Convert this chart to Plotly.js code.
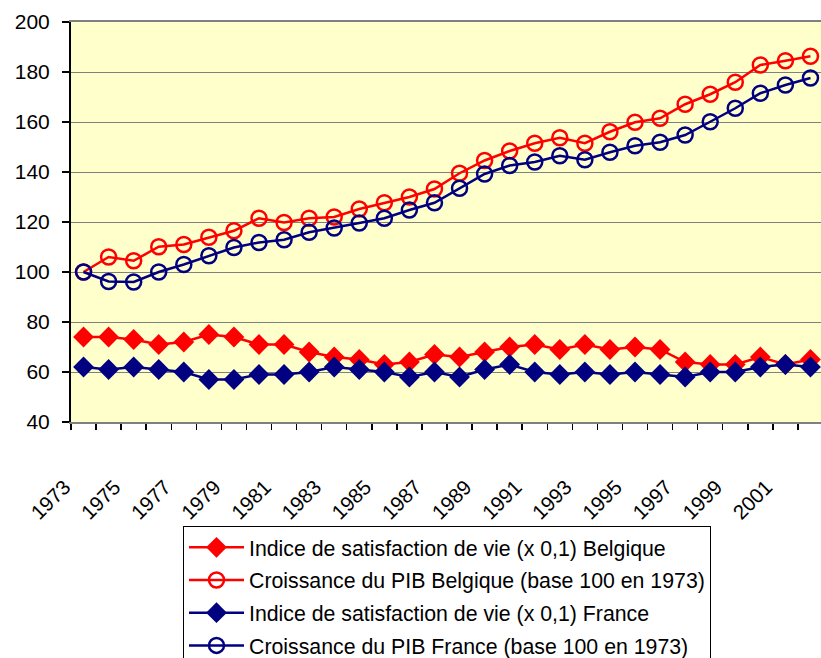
<!DOCTYPE html>
<html>
<head>
<meta charset="utf-8">
<script src="https://cdn.plot.ly/plotly-3.0.1.min.js"></script>
<style>html,body{margin:0;padding:0;background:#fff;}#chart{width:821px;height:658px;}</style>
</head>
<body>
<div id="chart"></div>
<script>
var years = [1973,1974,1975,1976,1977,1978,1979,1980,1981,1982,1983,1984,1985,1986,1987,1988,1989,1990,1991,1992,1993,1994,1995,1996,1997,1998,1999,2000,2001,2002];
var satisfactionBelgique = [74,74,73,71,72,75,74,71,71,68,66,65,63,64,67,66,68,70,71,69,71,69,70,69,64,63,63,66,63,65];
var pibBelgique = [100,106,104.5,110.1,111,113.9,116.5,121.5,119.8,121.5,122,125.2,127.7,130,133.2,139.5,144.6,148.4,151.5,153.7,151.5,156.1,159.9,161.5,167.1,171.1,175.9,182.8,184.5,186.3];
var satisfactionFrance = [62,61,62,61,60,57,57,59,59,60,62,61,60,58,60,58,61,63,60,59,60,59,60,59,58,60,60,62,63,62];
var pibFrance = [100,96.2,96,100,103,106.5,109.8,111.8,112.9,115.9,117.6,119.6,121.5,124.8,127.7,133.5,139.2,142.6,144,146.5,144.9,147.9,150.5,151.9,154.8,160.1,165.5,171.5,174.8,177.6];
var tickLabels = ['1973','1975','1977','1979','1981','1983','1985','1987','1989','1991','1993','1995','1997','1999','2001'];
var seriesNames = [
  'Indice de satisfaction de vie (x 0,1) Belgique',
  'Croissance du PIB Belgique (base 100 en 1973)',
  'Indice de satisfaction de vie (x 0,1) France',
  'Croissance du PIB France (base 100 en 1973)'
];
var RED = '#FF0000', NAVY = '#000080';

function tr(y, name, color, symbol, lg) {
  var open = symbol === 'circle-open';
  return {
    x: years, y: y, name: name, type: 'scatter', mode: 'lines+markers',
    legendgroup: lg,
    line: {color: color, width: 2.5},
    marker: open ? {symbol: 'circle-open', size: 15, color: color, line: {color: color, width: 2.5}}
                 : {symbol: 'diamond', size: 16, color: color, line: {color: color, width: 0}}
  };
}
var data = [
  tr(satisfactionBelgique, seriesNames[0], RED, 'diamond', 'a'),
  tr(pibBelgique, seriesNames[1], RED, 'circle-open', 'b'),
  tr(satisfactionFrance, seriesNames[2], NAVY, 'diamond', 'c'),
  tr(pibFrance, seriesNames[3], NAVY, 'circle-open', 'd')
];
var tickVals = tickLabels.map(Number);
var layout = {
  width: 821, height: 658,
  margin: {l: 71, r: 0, t: 22, b: 236, pad: 0, autoexpand: false},
  paper_bgcolor: '#FFFFFF',
  plot_bgcolor: '#FFFFCC',
  showlegend: true,
  font: {family: 'Liberation Sans, Arial, sans-serif', color: '#000000'},
  xaxis: {
    automargin: false,
    range: [years[0] - 0.5, years[years.length - 1] + 0.42],
    tickmode: 'array', tickvals: tickVals, ticktext: tickLabels,
    tickangle: -45, ticks: '', ticklabelstandoff: 43, ticklabelshift: -19,
    tickfont: {size: 20.5, color: '#000'},
    showgrid: false, zeroline: false,
    showline: true, linecolor: '#808080', linewidth: 2, mirror: true,
    minor: {tick0: years[0] - 0.5, dtick: 1, ticks: 'outside', ticklen: 6, tickwidth: 1.5, tickcolor: '#000', showgrid: false},
    fixedrange: true
  },
  yaxis: {
    automargin: false,
    range: [40, 200], dtick: 20, tick0: 40,
    ticks: 'outside', ticklen: 7, tickwidth: 2, tickcolor: '#000',
    tickfont: {size: 21, color: '#000'}, ticklabelstandoff: 8,
    showgrid: true, gridcolor: '#808080', gridwidth: 1,
    zeroline: false, showline: true, linecolor: '#000', linewidth: 2,
    fixedrange: true
  },
  legend: {
    x: (183 - 71) / 750, y: (422 - 526) / 400, xanchor: 'left', yanchor: 'top',
    bgcolor: '#FFFFFF', bordercolor: '#000000', borderwidth: 1,
    font: {size: 21.3, color: '#000'},
    tracegroupgap: 2, itemwidth: 55,
    traceorder: 'grouped'
  }
};
Plotly.newPlot('chart', data, layout, {displayModeBar: false, staticPlot: true});
</script>
</body>
</html>
